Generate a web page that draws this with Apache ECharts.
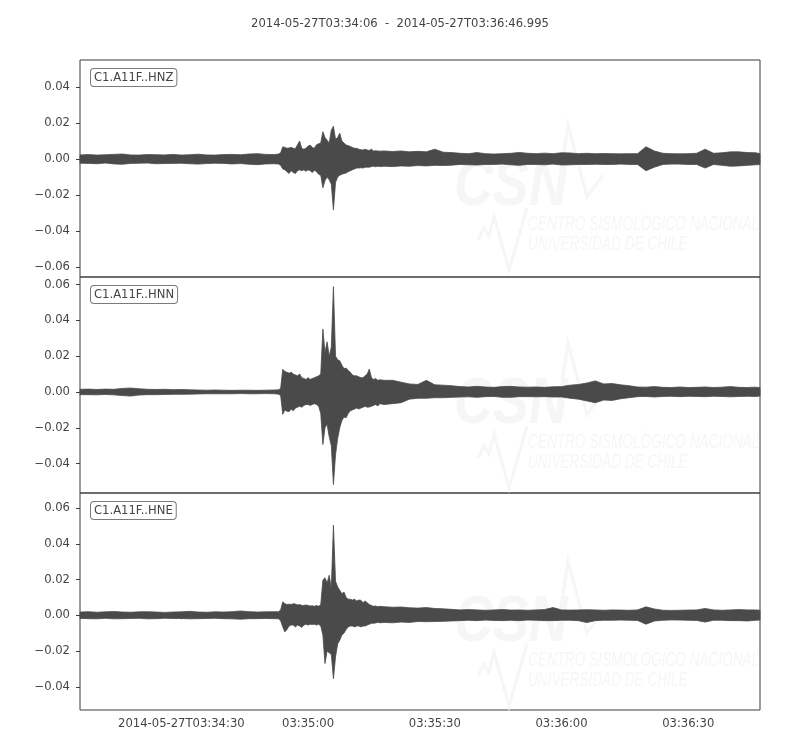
<!DOCTYPE html>
<html><head><meta charset="utf-8">
<script src="https://cdn.jsdelivr.net/npm/echarts@6/dist/echarts.min.js"></script>
<style>html,body{margin:0;padding:0;background:#fff}#c{width:800px;height:750px}</style>
</head><body><div id="c"></div>
<script>
// ---------- data ----------
const titleText = '2014-05-27T03:34:06  -  2014-05-27T03:36:46.995';
const channels = ['C1.A11F..HNZ', 'C1.A11F..HNN', 'C1.A11F..HNE'];
const traceStartSec = 6;        // seconds after 03:34:00
const traceEndSec = 166.995;
// envelope sample times, seconds after trace start
const tSec = [0,2,4,6,8,10,12,14,16,18,20,22,24,26,28,30,32,34,36,38,40,42,44,46,
  47,47.5,48,48.5,49,49.5,50,50.5,51,51.5,52,52.5,53,53.5,54,54.5,55,55.5,56,56.5,57,57.5,58,58.5,59,59.5,60,60.5,61,61.5,62,62.5,63,63.5,64,64.5,65,65.5,66,66.5,67,67.5,68,68.5,69,69.5,70,70.5,71,
  72,74,76,78,80,82,84,86,88,90,92,94,96,98,100,102,104,106,108,110,112,114,116,118,120,122,124,126,128,130,132,134,136,138,140,142,144,146,148,150,152,154,156,158,160,160.99];
// envelope amplitudes (units of 0.001)
const zMax = [2.3,2.5,2.2,2.4,2.6,2.8,2.3,2.2,2.5,2.4,2.3,2.6,2.2,2.4,2.7,2.3,2.2,2.5,2.6,2.4,2.8,3.0,2.6,2.5,
  2.8,3.5,6.8,6.5,6.0,6.2,6.5,6.0,5.8,8.0,10.0,6.0,5.5,6.0,7.2,7.8,6.5,6.0,8.0,8.5,9.0,15.2,12.0,10.5,9.0,16.0,18.3,11.0,12.0,14.4,10.0,9.0,7.8,7.5,7.0,6.5,6.0,6.0,5.5,5.2,5.0,5.5,5.0,4.8,5.5,4.5,4.6,4.5,4.4,
  4.5,4.2,4.5,4.0,4.3,4.0,5.5,3.8,3.6,3.2,3.0,3.6,3.0,2.8,3.0,3.2,3.7,3.2,3.0,3.3,3.0,3.5,3.4,3.0,3.2,3.0,3.1,3.0,2.9,3.0,3.0,6.8,4.5,3.2,3.0,2.9,3.0,3.2,5.5,3.2,3.5,4.0,4.0,3.6,3.5,3.0];
const zMin = [-2.3,-2.4,-2.6,-2.2,-2.7,-2.9,-2.4,-2.3,-2.2,-2.6,-2.5,-2.4,-2.3,-2.6,-2.8,-2.5,-2.3,-2.4,-2.7,-2.5,-2.9,-3.1,-2.7,-2.6,
  -2.8,-3.5,-5.5,-6.0,-7.0,-8.0,-6.5,-7.5,-8.0,-6.5,-6.0,-6.5,-6.0,-6.8,-6.0,-6.5,-7.5,-6.2,-7.0,-8.5,-9.0,-16.0,-12.0,-10.0,-11.5,-14.0,-28.3,-13.0,-10.0,-9.0,-8.5,-8.0,-7.8,-7.0,-6.5,-6.0,-5.5,-5.0,-5.0,-4.8,-5.0,-4.5,-4.5,-4.5,-4.2,-4.0,-4.3,-4.0,-4.2,
  -4.0,-4.2,-3.8,-4.0,-3.6,-3.8,-3.5,-3.6,-3.4,-3.0,-3.2,-3.3,-3.0,-3.0,-2.8,-3.2,-3.5,-3.0,-3.0,-3.2,-2.8,-3.3,-3.2,-3.0,-3.0,-2.9,-3.0,-3.0,-2.8,-3.0,-3.0,-6.5,-4.5,-3.0,-2.8,-2.8,-3.0,-3.0,-5.0,-3.0,-3.5,-4.0,-3.8,-3.5,-3.2,-3.0];
const nMax = [1.5,1.6,1.4,1.6,1.5,2.0,2.2,1.8,1.5,1.4,1.5,1.3,1.4,1.2,1.1,1.0,1.1,1.0,0.9,1.0,1.0,0.9,1.0,1.1,
  1.2,2.0,12.7,11.5,11.0,10.5,11.0,10.0,9.5,9.0,10.0,8.0,7.5,7.0,8.0,7.0,7.5,8.0,8.5,9.0,10.0,35.1,22.0,28.0,20.0,25.0,58.8,20.0,18.0,17.4,15.0,13.0,13.4,12.0,11.0,9.5,9.0,9.0,8.5,8.0,8.0,9.0,10.0,12.8,8.0,7.0,7.5,6.5,6.8,
  6.5,6.5,5.5,4.5,4.2,6.5,4.0,3.8,3.5,3.0,2.8,3.2,2.8,2.6,3.0,3.2,2.8,2.7,2.8,2.6,2.9,3.0,3.8,4.2,5.0,6.2,4.5,4.7,4.0,3.5,2.8,2.7,3.0,2.6,2.5,2.8,2.5,2.6,2.8,2.5,2.7,3.0,2.6,2.5,2.7,2.4];
const nMin = [-1.5,-1.5,-1.6,-1.4,-1.6,-2.0,-2.3,-1.7,-1.5,-1.5,-1.4,-1.3,-1.3,-1.2,-1.1,-1.0,-1.0,-1.0,-1.0,-0.9,-1.0,-1.0,-0.9,-1.0,
  -1.2,-2.0,-12.5,-10.0,-10.7,-11.0,-9.5,-10.5,-9.0,-8.5,-8.0,-8.5,-7.5,-7.0,-7.0,-7.5,-7.0,-6.5,-7.0,-8.0,-12.0,-29.3,-20.0,-18.0,-25.0,-30.0,-51.7,-35.0,-26.0,-20.0,-16.0,-14.0,-14.4,-12.0,-10.5,-10.0,-9.5,-9.0,-9.5,-9.0,-8.5,-8.0,-8.5,-8.4,-8.0,-7.5,-7.0,-7.8,-6.5,
  -7.0,-6.5,-6.0,-4.0,-3.5,-3.5,-3.2,-3.2,-3.0,-2.8,-2.7,-3.0,-2.6,-2.5,-3.0,-3.0,-2.6,-2.6,-2.7,-2.6,-2.8,-2.8,-3.5,-4.0,-5.0,-6.0,-4.5,-4.7,-3.8,-3.2,-2.6,-2.5,-2.8,-2.5,-2.4,-2.6,-2.4,-2.5,-2.6,-2.4,-2.5,-2.7,-2.5,-2.4,-2.5,-2.3];
const eMax = [1.8,2.0,1.7,1.9,2.1,1.8,1.7,1.9,2.0,1.8,1.6,1.8,1.9,2.2,1.8,1.7,1.9,1.8,2.0,2.4,2.0,1.8,1.9,2.0,
  2.0,3.0,7.5,6.5,6.0,6.2,6.0,6.5,6.3,5.8,6.0,5.5,5.5,5.8,5.5,5.2,5.3,5.0,5.5,5.0,6.0,19.6,21.0,18.0,22.4,15.0,50.4,19.0,16.0,14.0,12.0,13.0,10.0,9.0,9.0,8.5,9.0,8.0,8.5,8.4,7.0,8.0,7.0,6.0,5.5,5.0,5.2,4.8,5.0,
  4.8,4.5,4.6,4.2,4.0,4.3,3.8,3.6,3.3,3.0,3.2,3.0,2.8,3.0,3.2,2.9,3.0,2.8,3.0,3.2,4.3,3.0,2.9,3.0,3.1,3.0,2.8,3.0,2.9,2.8,3.0,4.7,3.5,2.8,2.7,2.8,2.9,3.0,3.8,3.0,2.8,3.0,3.2,3.0,3.0,2.8];
const eMin = [-1.8,-1.9,-2.0,-1.7,-2.0,-1.9,-1.8,-1.7,-2.0,-1.9,-1.7,-1.8,-1.8,-2.0,-1.9,-1.8,-1.7,-1.9,-2.0,-2.2,-1.9,-1.9,-1.8,-1.9,
  -2.0,-3.0,-6.5,-9.3,-8.0,-6.0,-5.5,-5.5,-6.5,-5.5,-6.0,-6.8,-5.5,-5.0,-5.5,-5.0,-5.2,-5.0,-5.5,-5.0,-6.0,-11.0,-27.0,-20.0,-21.0,-22.0,-35.5,-23.3,-16.0,-14.0,-11.0,-10.0,-8.0,-6.5,-6.0,-6.0,-6.5,-6.0,-6.0,-6.5,-6.0,-6.0,-5.5,-5.0,-4.5,-4.5,-4.3,-4.0,-4.2,
  -4.0,-4.2,-3.8,-4.0,-3.5,-3.6,-3.5,-3.4,-3.2,-3.0,-2.8,-3.0,-2.7,-2.9,-3.0,-2.8,-3.0,-2.7,-2.8,-3.0,-3.0,-2.8,-2.8,-3.0,-4.1,-3.0,-2.8,-2.8,-2.7,-2.8,-2.9,-5.0,-3.2,-2.8,-2.6,-2.7,-2.8,-2.9,-3.8,-2.8,-2.8,-3.0,-3.0,-3.2,-2.8,-2.7];
const yMinLim = [-0.0656, -0.0564, -0.0530];
const yMaxLim = [0.0551, 0.0642, 0.0684];
const yTickValues = [
  [-0.06, -0.04, -0.02, 0, 0.02, 0.04],
  [-0.04, -0.02, 0, 0.02, 0.04, 0.06],
  [-0.04, -0.02, 0, 0.02, 0.04, 0.06]
];
const xTickValues = [30, 60, 90, 120, 150];   // seconds after 03:34:00
const xTickLabels = ['2014-05-27T03:34:30', '03:35:00', '03:35:30', '03:36:00', '03:36:30'];

// ---------- chart ----------
const FONT = '"DejaVu Sans", sans-serif';
const TXT = '#444444';
const FRAME = '#3c3c3c';
const WAVE = '#4a4a4a';
const envs = [[zMax, zMin], [nMax, nMin], [eMax, eMin]];
const gridTops = [60, 277, 493];
const gridHeights = [217, 216, 217];

const grids = [], xAxes = [], yAxes = [], series = [], graphics = [];
for (let k = 0; k < 3; k++) {
  const last = k === 2;
  grids.push({left: 80, width: 680, top: gridTops[k], height: gridHeights[k],
    show: true, borderColor: FRAME, borderWidth: 1, backgroundColor: 'transparent'});
  xAxes.push({type: 'value', gridIndex: k, min: traceStartSec, max: traceEndSec,
    axisLine: {show: false}, splitLine: {show: false},
    axisTick: {show: last, customValues: xTickValues, length: 4, lineStyle: {color: FRAME}},
    axisLabel: {show: last, customValues: xTickValues, margin: 8, color: TXT, fontSize: 11.6, fontFamily: FONT,
      formatter: v => { const i = xTickValues.indexOf(Math.round(v)); return i >= 0 ? xTickLabels[i] : ''; }}});
  yAxes.push({type: 'value', gridIndex: k, min: yMinLim[k], max: yMaxLim[k],
    axisLine: {show: false}, splitLine: {show: false},
    axisTick: {show: true, customValues: yTickValues[k], length: 4, lineStyle: {color: FRAME}},
    axisLabel: {customValues: yTickValues[k], margin: 10, color: TXT, fontSize: 11.6, fontFamily: FONT,
      formatter: v => (v < -1e-9 ? '\u2212' : '') + Math.abs(v).toFixed(2)}});
  const mx = envs[k][0], mn = envs[k][1];
  series.push({type: 'custom', xAxisIndex: k, yAxisIndex: k, silent: true, animation: false, z: 5,
    data: [[traceStartSec, 0]],
    renderItem: function (params, api) {
      const pts = [];
      for (let i = 0; i < tSec.length; i++) pts.push(api.coord([traceStartSec + tSec[i], mx[i] / 1000]));
      for (let i = tSec.length - 1; i >= 0; i--) pts.push(api.coord([traceStartSec + tSec[i], mn[i] / 1000]));
      return {type: 'polygon', shape: {points: pts}, style: {fill: WAVE, stroke: WAVE, lineWidth: 0.8, lineJoin: 'miter'}};
    }});
  // watermark (decorative)
  const dy = [0, 218, 436][k];
  const wm = '#f6f6f6';
  graphics.push({type: 'text', x: 454, y: 155 + dy, scaleX: 0.84, z: 1, silent: true,
    style: {text: 'CSN', font: 'italic bold 64px "Liberation Sans", sans-serif', fill: wm}});
  graphics.push({type: 'polyline', z: 1, silent: true,
    shape: {points: [[556, 205 + dy], [568, 125 + dy], [587, 197 + dy], [603, 175 + dy]]},
    style: {stroke: wm, lineWidth: 3, fill: null}});
  graphics.push({type: 'polyline', z: 1, silent: true,
    shape: {points: [[478, 240 + dy], [484, 228 + dy], [489, 236 + dy], [494, 216 + dy], [509, 270 + dy], [527, 208 + dy]]},
    style: {stroke: wm, lineWidth: 3, fill: null}});
  graphics.push({type: 'text', x: 528, y: 214 + dy, scaleX: 0.68, z: 1, silent: true,
    style: {text: 'CENTRO SISMOLÓGICO NACIONAL', font: 'italic 20px "Liberation Sans", sans-serif', fill: wm}});
  graphics.push({type: 'text', x: 528, y: 234 + dy, scaleX: 0.68, z: 1, silent: true,
    style: {text: 'UNIVERSIDAD DE CHILE', font: 'italic 20px "Liberation Sans", sans-serif', fill: wm}});
  // channel label box
  graphics.push({type: 'text', left: 90, top: [68, 285, 501][k], z: 100,
    style: {text: channels[k], font: '11.6px ' + FONT, fill: TXT, backgroundColor: '#ffffff',
      borderColor: '#7a7a7a', borderWidth: 1, borderRadius: 3, padding: [3, 3, 2, 3]}});
}

const chart = echarts.init(document.getElementById('c'), null, {renderer: 'canvas'});
chart.setOption({
  animation: false,
  backgroundColor: '#ffffff',
  title: {text: titleText, left: 'center', top: 13,
    textStyle: {fontSize: 11.6, fontWeight: 'normal', color: TXT, fontFamily: FONT}},
  grid: grids, xAxis: xAxes, yAxis: yAxes, series: series, graphic: graphics
});
</script></body></html>
